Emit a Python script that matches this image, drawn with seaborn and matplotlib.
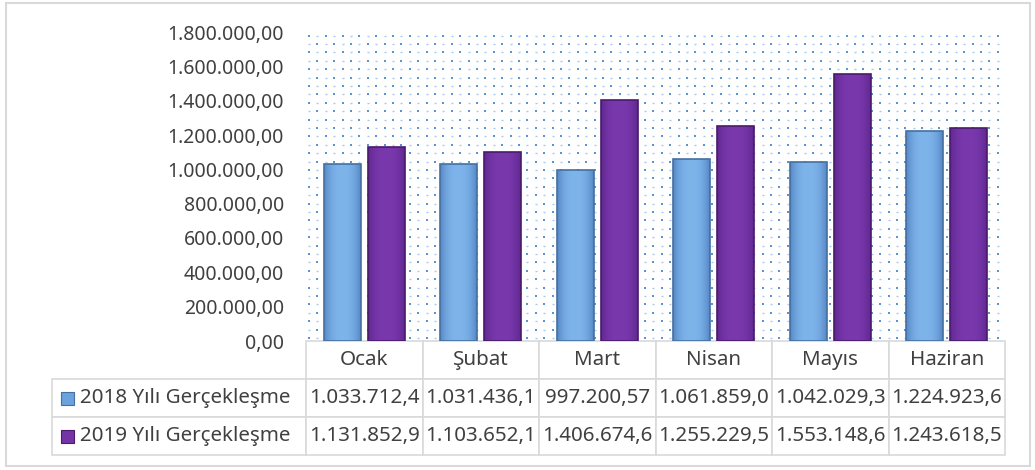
import matplotlib
matplotlib.use("Agg")
import matplotlib.pyplot as plt
import matplotlib.patches as mpatches
import matplotlib.colors as mcolors
from matplotlib.ticker import FuncFormatter
import seaborn as sns
import pandas as pd
import numpy as np

months = ["Ocak", "Şubat", "Mart", "Nisan", "Mayıs", "Haziran"]
series_names = ["2018 Yılı Gerçekleşme", "2019 Yılı Gerçekleşme"]
values_2018 = [1033712.4, 1031436.1, 997200.57, 1061859.0, 1042029.3, 1224923.6]
values_2019 = [1131852.9, 1103652.1, 1406674.6, 1255229.5, 1553148.6, 1243618.5]
table_2018 = ["1.033.712,4", "1.031.436,1", "997.200,57", "1.061.859,0", "1.042.029,3", "1.224.923,6"]
table_2019 = ["1.131.852,9", "1.103.652,1", "1.406.674,6", "1.255.229,5", "1.553.148,6", "1.243.618,5"]
y_ticks = [0, 200000, 400000, 600000, 800000, 1000000, 1200000, 1400000, 1600000, 1800000]

colors = ["#6ba2de", "#7434a6"]
edge_colors = ["#44709f", "#4a1a6c"]
grad_edge = ["#5687c6", "#5f2890"]
grad_center = ["#7db4ea", "#7a38ad"]

sns.set_theme(style="white")
plt.rcParams["font.family"] = ["Noto Sans", "DejaVu Sans"]

df = pd.DataFrame({
    "month": months * 2,
    "series": [series_names[0]] * 6 + [series_names[1]] * 6,
    "value": values_2018 + values_2019,
})

W, H = 1035, 470
fig = plt.figure(figsize=(W / 100, H / 100), dpi=100)
ax_l, ax_r, ax_t, ax_b = 306, 1005, 32, 341
aw, ah = ax_r - ax_l, ax_b - ax_t
ax = fig.add_axes([ax_l / W, 1 - ax_b / H, aw / W, ah / H])

# dotted background texture of the plot area (decoration, in axes coords)
step = 8.4
gx = np.arange(3, aw, step)
gy = np.arange(3, ah, step)
XX, YY = np.meshgrid(np.arange(len(gx)), np.arange(len(gy)))
even = (XX + YY) % 2 == 0
ax.scatter(gx[XX[even]] / aw, gy[YY[even]] / ah, s=4, marker="s", color="#5594d8",
           linewidths=0, transform=ax.transAxes, zorder=0, clip_on=True)
ax.scatter(gx[XX[~even]] / aw, gy[YY[~even]] / ah, s=3, marker="_", color="#a6c9ee",
           linewidths=1.0, transform=ax.transAxes, zorder=0, clip_on=True)

sns.barplot(data=df, x="month", y="value", hue="series", order=months,
            hue_order=series_names, palette=colors, width=0.756, gap=0.16,
            ax=ax, legend=False, errorbar=None, saturation=1)

# bevel-like shading of every bar, clipped to the bar drawn by seaborn
tt = np.linspace(-1, 1, 64)
wgt = 1 - np.abs(tt) ** 2.5
for i, container in enumerate(ax.containers):
    e = np.array(mcolors.to_rgb(grad_edge[i]))
    c = np.array(mcolors.to_rgb(grad_center[i]))
    grad = (e[None, :] + (c - e)[None, :] * wgt[:, None])[None, :, :]
    for bar in container:
        x0, y0, bw, bh = bar.get_x(), bar.get_y(), bar.get_width(), bar.get_height()
        im = ax.imshow(grad, extent=[x0, x0 + bw, y0, y0 + bh], aspect="auto",
                       zorder=3, interpolation="bilinear")
        im.set_clip_path(bar)
        bar.set_facecolor("none")
        bar.set_edgecolor(edge_colors[i])
        bar.set_linewidth(1.2)
        bar.set_zorder(4)

ax.set_xlim(-0.5, 5.5)
ax.set_ylim(0, 1800000)
ax.set_aspect("auto")
ax.set_yticks(y_ticks)
ax.yaxis.set_major_formatter(FuncFormatter(
    lambda v, p: f"{v:,.2f}".replace(",", "X").replace(".", ",").replace("X", ".")))
ax.tick_params(axis="y", length=0, pad=16, labelsize=14, labelcolor="#404040")
ax.set_xticks([])
ax.set_xlabel("")
ax.set_ylabel("")
for s in ax.spines.values():
    s.set_visible(False)

# data table below the plot
tbl_left, tbl_bottom = 52, 455
label_w = ax_l - tbl_left
row_h = (tbl_bottom - ax_b) / 3
tb = ax.table(cellText=[table_2018, table_2019],
              rowLabels=["     " + n for n in series_names],
              colLabels=months, cellLoc="center", rowLoc="left",
              colWidths=[1 / 6] * 6,
              bbox=[0, -(tbl_bottom - ax_b) / ah, 1, (tbl_bottom - ax_b) / ah])
tb.auto_set_font_size(False)
tb._autoColumns = []
for (r, c), cell in tb.get_celld().items():
    if c == -1:
        cell.set_width(label_w / aw)
    cell.set_edgecolor("#d9d9d9")
    cell.set_linewidth(1.2)
    cell.set_clip_on(False)
    cell.PAD = 0.005
    t = cell.get_text()
    t.set_fontsize(14.8)
    t.set_color("#404040")
tb.set_clip_on(False)

# legend keys inside the table row labels
for r in range(2):
    yc = ax_b + row_h * (r + 1.5)
    fig.add_artist(mpatches.Rectangle((61 / W, 1 - (yc + 6.5) / H), 13 / W, 13 / H,
                                      transform=fig.transFigure, facecolor=colors[r],
                                      edgecolor=edge_colors[r], linewidth=0.8))

# outer chart border
fig.add_artist(mpatches.Rectangle((6 / W, 1 - 466 / H), 1024 / W, 463 / H,
                                  transform=fig.transFigure, fill=False,
                                  edgecolor="#d9d9d9", linewidth=1.5))

fig.savefig("out.png", dpi=100)
